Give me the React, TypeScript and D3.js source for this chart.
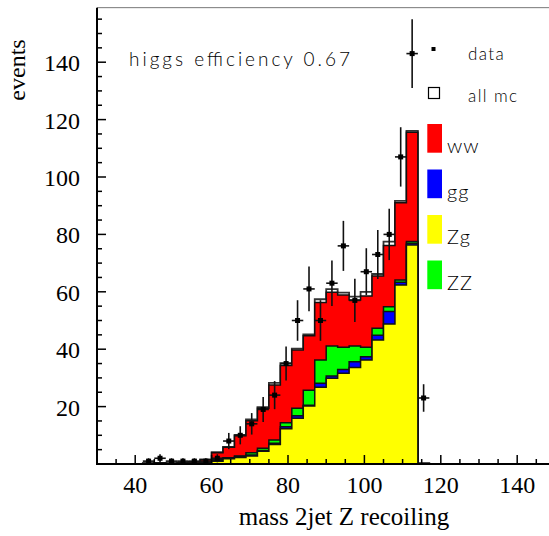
import React from "react";
import * as d3 from "d3";

// Histogram binning: 3 GeV bins, lower edges of the filled range
const BIN_WIDTH = 3;
const binLow = [42, 45, 48, 51, 54, 57, 60, 63, 66, 69, 72, 75, 78, 81, 84, 87, 90, 93, 96, 99, 102, 105, 108, 111, 114];

// Monte Carlo components (events per bin)
const zg = [0.1, 0.1, 0.1, 0.2, 0.3, 0.4, 1.0, 1.8, 2.3, 2.8, 4.4, 6.8, 12.3, 15.9, 20.2, 26.7, 29.9, 31.6, 33.6, 36.2, 43.2, 48.8, 62.4, 76.3, 0];
const gg = [0, 0, 0, 0, 0, 0, 0.2, 0.2, 0.3, 0.3, 0.3, 0.4, 0.7, 0.9, 0.3, 1.4, 0.8, 1.3, 2.0, 1.2, 1.7, 4.3, 0.9, 0.6, 0];
const zz = [0, 0, 0, 0, 0, 0.1, 0.3, 0.2, 0.2, 0.8, 0.8, 1.2, 1.4, 2.6, 5.2, 8.1, 10.4, 7.8, 5.5, 3.3, 2.4, 1.7, 0.8, 0.6, 0];
const ww = [0.2, 0.3, 0.2, 0.3, 0.4, 1.0, 2.4, 3.6, 7.0, 11.2, 13.9, 19.1, 19.9, 20.3, 19.0, 20.1, 18.7, 18.2, 16.0, 17.8, 18.2, 21.3, 26.9, 38.1, 0.2];
const allMc = [0.3, 0.4, 0.3, 0.5, 0.7, 1.6, 4.1, 6.0, 10.1, 15.5, 19.8, 28.3, 35.1, 40.2, 45.2, 57.4, 60.9, 59.7, 58.3, 60.0, 66.2, 77.5, 91.7, 116.1, 0.3];

// Data points (bin centre, counts)
const dataX = [43.5, 46.5, 49.5, 52.5, 55.5, 58.5, 61.5, 64.5, 67.5, 70.5, 73.5, 76.5, 79.5, 82.5, 85.5, 88.5, 91.5, 94.5, 97.5, 100.5, 103.5, 106.5, 109.5, 112.5, 115.5];
const dataN = [1, 2, 1, 1, 1, 1, 2, 8, 10, 14, 19, 24, 35, 50, 61, 50, 63, 76, 57, 67, 73, 80, 107, 143, 23];

const xTickLabels = [40, 60, 80, 100, 120, 140];
const yTickLabels = [20, 40, 60, 80, 100, 120, 140];

const legendEntries = [
  { label: "ww", color: "#ff0000" },
  { label: "gg", color: "#0000ff" },
  { label: "Zg", color: "#ffff00" },
  { label: "ZZ", color: "#00ff00" },
];

const W = 549;
const H = 536;
const LEFT = 97;
const BOTTOM = 464;

export default function App() {
  const x = d3.scaleLinear().domain([30, 150]).range([LEFT, LEFT + 120 * 3.82]);
  const y = d3.scaleLinear().domain([0, 159]).range([BOTTOM, BOTTOM - 159 * 2.87]);

  const line = d3.line<[number, number]>().x((d) => d[0]).y((d) => d[1]);

  // Step outline of a histogram, closed down to zero
  const histPath = (vals: number[]) => {
    const pts: [number, number][] = [[x(binLow[0]), y(0)]];
    vals.forEach((v, i) => {
      pts.push([x(binLow[i]), y(v)]);
      pts.push([x(binLow[i] + BIN_WIDTH), y(v)]);
    });
    pts.push([x(binLow[binLow.length - 1] + BIN_WIDTH), y(0)]);
    return line(pts) + "Z";
  };

  const cum1 = zg;
  const cum2 = zg.map((v, i) => v + gg[i]);
  const cum3 = cum2.map((v, i) => v + zz[i]);
  const cum4 = cum3.map((v, i) => v + ww[i]);

  const layers = [
    { vals: cum4, color: "#ff0000" },
    { vals: cum3, color: "#00ff00" },
    { vals: cum2, color: "#0000ff" },
    { vals: cum1, color: "#ffff00" },
  ];

  const xMinor = d3.range(35, 150, 5);
  const yMinor = d3.range(5, 159, 5);

  const serif = "'Liberation Serif', 'Times New Roman', serif";
  const sans = "Lato, 'DejaVu Sans', sans-serif";

  return (
    <svg width={W} height={H} style={{ position: "absolute", left: 0, top: 0, background: "#fff" }}>
      {/* frame top */}
      <line x1={LEFT} x2={W} y1={y(159)} y2={y(159)} stroke="#777" strokeWidth={1} />

      {/* total MC */}
      <path d={histPath(allMc)} fill="#ffffff" stroke="#333" strokeWidth={1.8} />
      {/* stacked components */}
      {layers.map((l, i) => (
        <path key={i} d={histPath(l.vals)} fill={l.color} stroke="#111" strokeWidth={1.5} />
      ))}

      {/* data */}
      {dataX.map((cx, i) => {
        const n = dataN[i];
        const e = Math.sqrt(n);
        const px = x(cx);
        const py = y(n);
        return (
          <g key={i} stroke="#111" strokeWidth={1.6}>
            <line x1={px} x2={px} y1={y(n + e)} y2={y(Math.max(0, n - e))} />
            <line x1={x(cx - 1.5)} x2={x(cx + 1.5)} y1={py} y2={py} />
            <rect x={px - 2.5} y={py - 2.5} width={5} height={5} fill="#000" stroke="none" />
          </g>
        );
      })}

      {/* axes */}
      <line x1={LEFT} x2={LEFT} y1={y(159)} y2={BOTTOM + 1} stroke="#000" strokeWidth={2} />
      <line x1={LEFT - 1} x2={W} y1={BOTTOM} y2={BOTTOM} stroke="#000" strokeWidth={2} />
      {xMinor.map((v) => (
        <line key={"xm" + v} x1={x(v)} x2={x(v)} y1={BOTTOM} y2={BOTTOM - (v % 20 === 0 ? 9 : 5)} stroke="#000" strokeWidth={1.5} />
      ))}
      {yMinor.map((v) => (
        <line key={"ym" + v} x1={LEFT} x2={LEFT + (v % 20 === 0 ? 9 : 5)} y1={y(v)} y2={y(v)} stroke="#000" strokeWidth={1.5} />
      ))}
      {xTickLabels.map((v) => (
        <text key={"xl" + v} x={x(v)} y={493} textAnchor="middle" fontFamily={serif} fontSize={24} fill="#000">
          {v}
        </text>
      ))}
      {yTickLabels.map((v) => (
        <text key={"yl" + v} x={80} y={y(v) + 9} textAnchor="end" fontFamily={serif} fontSize={24} fill="#000">
          {v}
        </text>
      ))}
      <text x={344} y={525} textAnchor="middle" fontFamily={serif} fontSize={25} fill="#000">
        mass 2jet Z recoiling
      </text>
      <text transform="translate(25,70) rotate(-90)" textAnchor="middle" fontFamily={serif} fontSize={24} fill="#000">
        events
      </text>

      {/* annotation */}
      <text x={129} y={66} fontFamily={sans} fontWeight={300} fontSize={19} fill="#000" textLength={221} lengthAdjust="spacing">
        higgs efficiency 0.67
      </text>

      {/* legend */}
      <rect x={431.5} y={47} width={4} height={4} fill="#000" />
      <text x={468} y={60} fontFamily={sans} fontWeight={300} fontSize={17} letterSpacing={1.4} fill="#000">
        data
      </text>
      <rect x={428.5} y={87.5} width={11} height={11} fill="none" stroke="#000" strokeWidth={1.2} />
      <text x={468} y={102} fontFamily={sans} fontWeight={300} fontSize={17} letterSpacing={1.4} fill="#000">
        all mc
      </text>
      {legendEntries.map((e, i) => (
        <g key={e.label}>
          <rect x={427.3} y={124 + i * 45.5} width={14.7} height={28.7} fill={e.color} />
          <text x={447} y={153 + i * 45.5} fontFamily={sans} fontWeight={300} fontSize={20} letterSpacing={1} fill="#000">
            {e.label}
          </text>
        </g>
      ))}
    </svg>
  );
}
